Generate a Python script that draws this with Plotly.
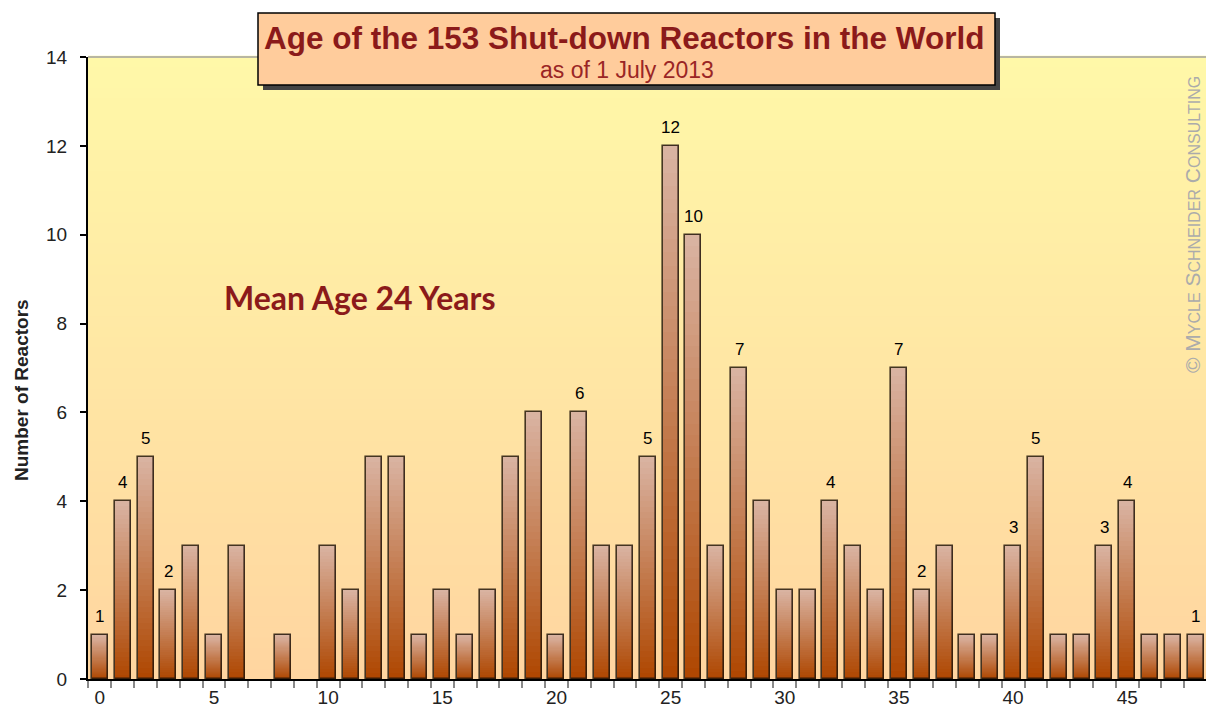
import plotly.graph_objects as go

ages = list(range(49))
reactors = [1, 4, 5, 2, 3, 1, 3, 0, 1, 0,
            3, 2, 5, 5, 1, 2, 1, 2, 5, 6,
            1, 6, 3, 3, 5, 12, 10, 3, 7, 4,
            2, 2, 4, 3, 2, 7, 2, 3, 1, 1,
            3, 5, 1, 1, 3, 4, 1, 1, 1]
labelled_ages = [0, 1, 2, 3, 21, 24, 25, 26, 28, 32, 35, 36, 40, 41, 44, 45, 48]
x_tick_vals = [0, 5, 10, 15, 20, 25, 30, 35, 40, 45]
y_tick_vals = [0, 2, 4, 6, 8, 10, 12, 14]

title_text = "Age of the 153 Shut-down Reactors in the World"
subtitle_text = "as of 1 July 2013"
mean_text = "Mean Age 24 Years"
y_title = "Number of Reactors"

def lerp(c1, c2, t):
    return tuple(round(a + (b - a) * t) for a, b in zip(c1, c2))

bar_top = (218, 180, 163)
bar_bottom = (174, 70, 0)
bg_top = (255, 248, 168)
bg_bottom = (255, 213, 160)

# plot-area pixel mapping (screen coords of the reference)
PL, PR, PT, PB = 88, 1206, 57, 679
def px(x):
    return (x - PL) / (PR - PL)
def py(y):
    return (PB - y) / (PB - PT)

fig = go.Figure()

# gradient bars built from stacked segments
N = 40
for k in range(N):
    t = (k + 0.5) / N
    col = lerp(bar_bottom, bar_top, t)
    fig.add_trace(go.Bar(
        x=ages,
        y=[v / N * 1.04 if v else 0 for v in reactors],
        base=[v * k / N for v in reactors],
        width=0.7,
        marker=dict(color="rgb(%d,%d,%d)" % col, line=dict(width=0)),
        hoverinfo="skip",
        showlegend=False,
    ))

# outline
fig.add_trace(go.Bar(
    x=ages, y=reactors, width=0.7,
    marker=dict(color="rgba(0,0,0,0)",
                line=dict(color="rgba(35,22,10,0.85)",
                          width=[1.6 if v else 0 for v in reactors])),
    showlegend=False,
))

shapes = []
S = 60
for i in range(S):
    c = lerp(bg_bottom, bg_top, (i + 0.5) / S)
    shapes.append(dict(type="rect", xref="paper", yref="paper", x0=0, x1=1,
                       y0=i / S, y1=(i + 1) / S + 0.002, layer="below",
                       fillcolor="rgb(%d,%d,%d)" % c, line=dict(width=0)))
# top border
shapes.append(dict(type="line", xref="paper", yref="paper", x0=0, x1=1, y0=1, y1=1,
                   line=dict(color="#a0a0a0", width=1.5)))
# title box shadow and box
shapes.append(dict(type="rect", xref="paper", yref="paper", x0=px(263), x1=px(1000),
                   y0=py(90), y1=py(18), fillcolor="#444444", line=dict(width=0)))
shapes.append(dict(type="rect", xref="paper", yref="paper", x0=px(258), x1=px(995),
                   y0=py(85), y1=py(13), fillcolor="#FFCC9C", line=dict(color="black", width=1.5)))

annotations = [
    dict(text="<b>" + title_text + "</b>", xref="paper", yref="paper",
         x=px(624), y=py(38), xanchor="center", yanchor="middle", showarrow=False,
         font=dict(family="Liberation Sans, Arial", size=31.5, color="#8B1A1A")),
    dict(text=subtitle_text, xref="paper", yref="paper",
         x=px(627), y=py(70), xanchor="center", yanchor="middle", showarrow=False,
         font=dict(family="Liberation Sans, Arial", size=23, color="#9A2525")),
    dict(text="<b>" + mean_text + "</b>", xref="paper", yref="paper",
         x=px(360), y=py(297), xanchor="center", yanchor="middle", showarrow=False,
         font=dict(family="Lato, Open Sans", size=32, color="#8B1A1A")),
    dict(text="© M<span style='font-size:16px'>YCLE</span> S<span style='font-size:16px'>CHNEIDER</span> C<span style='font-size:16px'>ONSULTING</span>",
         xref="paper", yref="paper", x=px(1193), y=py(225),
         xanchor="center", yanchor="middle",
         textangle=-90, showarrow=False,
         font=dict(family="Liberation Sans, Arial", size=21, color="#ABABAB")),
    dict(text="<b>" + y_title + "</b>", xref="paper", yref="paper",
         x=px(21), y=py(390), xanchor="center", yanchor="middle",
         textangle=-90, showarrow=False,
         font=dict(family="Liberation Sans, Arial", size=19, color="#222")),
]
for a, v in zip(ages, reactors):
    if a in labelled_ages:
        annotations.append(dict(text=str(v), x=a, y=v, xref="x", yref="y",
                                xanchor="center", yanchor="bottom", yshift=7,
                                showarrow=False,
                                font=dict(family="Liberation Sans, Arial", size=17, color="black")))

fig.update_layout(
    width=1206, height=713,
    margin=dict(l=PL, r=1206 - PR, t=PT, b=713 - PB),
    paper_bgcolor="white", plot_bgcolor="rgba(0,0,0,0)",
    barmode="overlay", bargap=0,
    shapes=shapes, annotations=annotations,
    xaxis=dict(range=[-0.52, 48.45], tickmode="array", tickvals=x_tick_vals,
               ticks="", showgrid=False, zeroline=False,
               showline=True, linecolor="black", linewidth=1.5,
               tickfont=dict(family="Liberation Sans, Arial", size=19, color="#222"),
               minor=dict(ticks="outside", tickmode="linear", tick0=-0.5, dtick=1,
                          ticklen=7, tickwidth=2, tickcolor="#8a8a8a", showgrid=False)),
    yaxis=dict(range=[0, 14], tickmode="array", tickvals=y_tick_vals,
               ticks="outside", ticklen=6, tickwidth=1.5, tickcolor="black",
               showgrid=False, zeroline=False, showline=True, linecolor="black", linewidth=2,
               ticklabelstandoff=9,
               tickfont=dict(family="Liberation Sans, Arial", size=19, color="#222")),
    font=dict(family="Liberation Sans, Arial"),
)
fig.update_xaxes(tickprefix="<b>", ticksuffix="</b>")
fig.update_yaxes(tickprefix="<b>", ticksuffix="</b>")

fig.write_html("out.html", config={"displayModeBar": False},
               post_script="document.body.style.margin='0';document.body.style.overflow='hidden';")
